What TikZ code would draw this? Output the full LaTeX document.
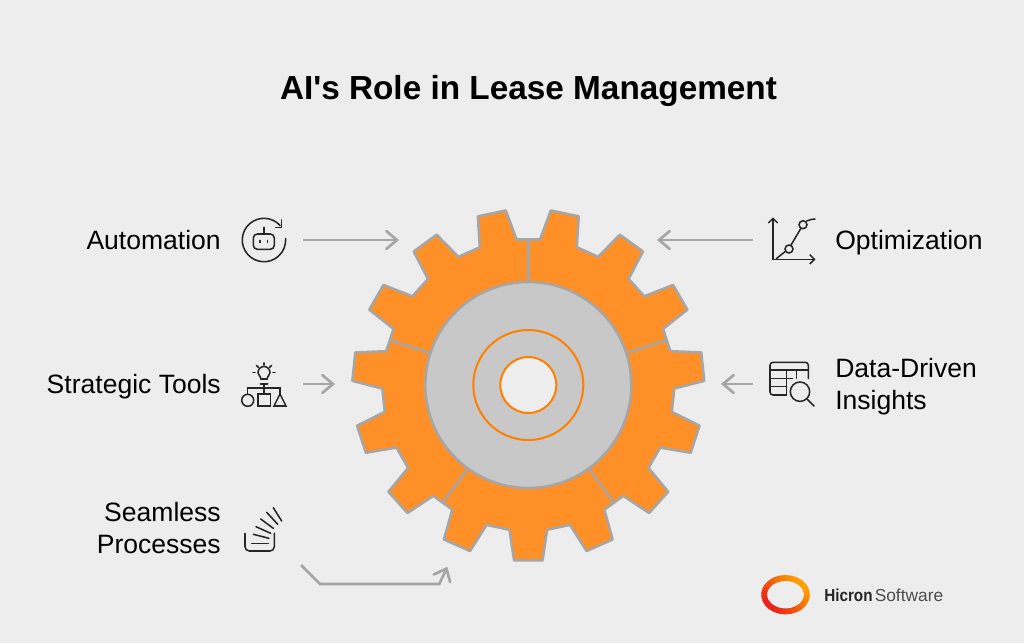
\documentclass[tikz,border=0pt]{standalone}
\usepackage{fontspec}
\usepackage{graphicx}
\setmainfont{Liberation Sans}[Ligatures=TeXOff]
\usetikzlibrary{arrows.meta,positioning}
\definecolor{paper}{HTML}{EDEDED}
\definecolor{gearfill}{HTML}{FF8F27}
\definecolor{gearedge}{HTML}{A6A6A6}
\definecolor{hubfill}{HTML}{C8C8C8}
\definecolor{ringcol}{HTML}{FF7F00}
\definecolor{logored}{HTML}{E8231B}
\definecolor{logoorange}{HTML}{FFA000}

\begin{document}
\begin{tikzpicture}[x=0.75pt, y=-0.75pt,
        itemtext/.style={inner sep=0pt, font=\fontsize{19.9}{24}\selectfont, text=black},
        pointer/.style={draw=gearedge, line width=2pt, -{Straight Barb[length=8pt, width=13.5pt, line cap=round]}},
        gearline/.style={draw=gearedge, line width=1.9pt},
        ringline/.style={draw=ringcol, line width=1.5pt},
        iconline/.style={draw=black!85, line width=1.15pt, line cap=round},
        logoline/.style={line width=4.4pt}
    ]
    \useasboundingbox [fill=paper] (0,0) rectangle (1024,643);

    \node [inner sep=0pt, anchor=base, font=\fontsize{25}{30}\selectfont\bfseries] (title) at (528.5,99) {AI's Role in Lease Management};

    % gear
    \begin{scope}[shift={(528.3,385)}]
        \draw [gearline, fill=gearfill, line join=round] (-85.4:146)
            \foreach \k in {0,...,14} {
                -- ({-78+24*\k-7.4}:146) -- ({-78+24*\k-4.65}:176) -- ({-78+24*\k+4.65}:176) -- ({-78+24*\k+7.4}:146)
            } -- cycle;
        \foreach \a in {-90,-18,54,126,198} {
            \draw [gearline] (\a:103) -- (\a:146);
        }
        \draw [gearline, fill=hubfill] (0,0) circle [radius=103];
        \draw [ringline] (0,0) circle [radius=55];
        \draw [ringline, fill=paper] (0,0) circle [radius=28];
    \end{scope}

    % left labels
    \node [itemtext, anchor=base east] (automation) at (221,249) {Automation};
    \node [itemtext, anchor=base east] (strategic) at (221,393) {Strategic Tools};
    \node [itemtext, anchor=base east] (seamless) at (221,521) {Seamless};
    \node [itemtext, anchor=base east] (processes) at (221,553) {Processes};

    % right labels
    \node [itemtext, anchor=base west] (optimization) at (835,249) {Optimization};
    \node [itemtext, anchor=base west] (datadriven) at (835,377) {Data-Driven};
    \node [itemtext, anchor=base west] (insights) at (835,409) {Insights};

    % arrows
    \coordinate (autoTail) at (303,240);
    \coordinate (autoHead) at (399,240);
    \coordinate (optTail) at (753,240);
    \coordinate (optHead) at (657,240);
    \coordinate (stratTail) at (303,384);
    \coordinate (stratHead) at (335,384);
    \coordinate (dataTail) at (753,384);
    \coordinate (dataHead) at (721,384);
    \coordinate (seamTail) at (301,565);
    \coordinate (seamKneeA) at (320,584);
    \coordinate (seamKneeB) at (439.3,584);
    \coordinate (seamHead) at (447.3,566.7);
    \draw [pointer] (autoTail) -- (autoHead);
    \draw [pointer] (optTail) -- (optHead);
    \draw [pointer] (stratTail) -- (stratHead);
    \draw [pointer] (dataTail) -- (dataHead);
    \draw [pointer] (seamTail) -- (seamKneeA) -- (seamKneeB) -- (seamHead);

    % automation icon
    \draw [iconline] (280.1,225.5) arc [start angle=-42, end angle=-364, radius=21.7];
    \draw [iconline] (275.7,227.3) -- (281.7,227.3) -- (281.7,220);
    \draw [iconline, rounded corners=3pt] (253.3,234) rectangle (274.3,249.3);
    \draw [iconline] (264,227.3) -- (264,234);
    \draw [iconline] (260,240.5) -- (260,242.5);
    \draw [iconline] (267.7,240.5) -- (267.7,242.5);

    % strategic icon
    \draw [iconline] (261,379) .. controls (260,375) and (258,375) .. (258,372.5) arc [start angle=180, end angle=360, radius=6] .. controls (270,375) and (268,375) .. (267,379) -- cycle;
    \draw [iconline, line width=1.5pt] (260.5,384) -- (267.5,384);
    \draw [iconline] (264,363) -- (264,365);
    \draw [iconline] (256.5,365.5) -- (258.5,367.5);
    \draw [iconline] (271.5,365.5) -- (269.5,367.5);
    \draw [iconline] (253,372.3) -- (255,372.3);
    \draw [iconline] (273,372.3) -- (275,372.3);
    \draw [iconline] (264,385) -- (264,394);
    \draw [iconline] (247.7,394) -- (247.7,388) -- (280,388) -- (280,394);
    \draw [iconline] (247.7,400.3) circle [radius=6];
    \draw [iconline] (258,394) rectangle (270.3,406);
    \draw [iconline] (280,394) -- (286,406) -- (274,406) -- cycle;

    % optimization icon
    \draw [iconline, -{Straight Barb[length=3.5pt, width=7pt]}] (773,259.3) -- (773,217.3);
    \draw [iconline, -{Straight Barb[length=3.5pt, width=7pt]}] (773,259.3) -- (815.5,259.3);
    \draw [iconline] (789,249) circle [radius=4];
    \draw [iconline] (803,224.7) circle [radius=4];
    \draw [iconline] (776.5,258.5) -- (785,251.7);
    \draw [iconline] (791,245) -- (800.7,228.7);
    \draw [iconline] (806.7,221) .. controls (809,220) and (811,219.3) .. (815,219);

    % data icon
    \draw [iconline] (808.3,378.5) -- (808.3,365.3) arc [start angle=0, end angle=-90, radius=3] -- (773,362.3) arc [start angle=270, end angle=180, radius=3] -- (770,392) arc [start angle=180, end angle=90, radius=3] -- (786.7,395);
    \draw [iconline] (770,370) -- (808.3,370);
    \draw [iconline] (770,378.3) -- (792.7,378.3);
    \draw [iconline] (770,386.7) -- (786.7,386.7);
    \draw [iconline] (786.7,370) -- (786.7,395);
    \draw [iconline] (796.7,370) -- (796.7,378.3);
    \draw [iconline] (800,391.7) circle [radius=9.7];
    \draw [iconline] (807.3,399.3) -- (814,406);

    % seamless icon
    \draw [iconline] (245,533.3) -- (245,546.7) arc [start angle=180, end angle=90, radius=4.3] -- (270,551) arc [start angle=90, end angle=0, radius=4.3] -- (274.3,533.3);
    \draw [iconline] (251.7,543.3) -- (268.3,543.3);
    \draw [iconline] (253.3,534.3) -- (269,538.3);
    \draw [iconline] (256,526.7) -- (270.7,533.3);
    \draw [iconline] (260.7,519) -- (273.3,528.3);
    \draw [iconline] (266.7,512.3) -- (277.7,524.3);
    \draw [iconline] (273.3,507.7) -- (281.7,521);

    % logo
    \foreach \t in {0,15,...,345} {
        \pgfmathsetmacro{\mixred}{50+50*cos(\t-135)}
        \draw [logoline, draw=logored!\mixred!logoorange]
            ({785.5+21.5*cos(\t)},{594.7+16.8*sin(\t)}) -- ({785.5+21.5*cos(\t+17)},{594.7+16.8*sin(\t+17)});
    }
    \fill [logored] (768.5,601.5) -- (774,607.5) -- (770,608) -- cycle;
    \node [inner sep=0pt, anchor=base west, font=\fontsize{13}{15}\selectfont, text=black!85] (hicron) at (824,601) {\scalebox{0.88}[1]{\textbf{Hicron}}};
    \node [inner sep=0pt, anchor=base west, font=\fontsize{13}{15}\selectfont, text=black!70] (software) at (874.5,601) {Software};
\end{tikzpicture}
\end{document}
